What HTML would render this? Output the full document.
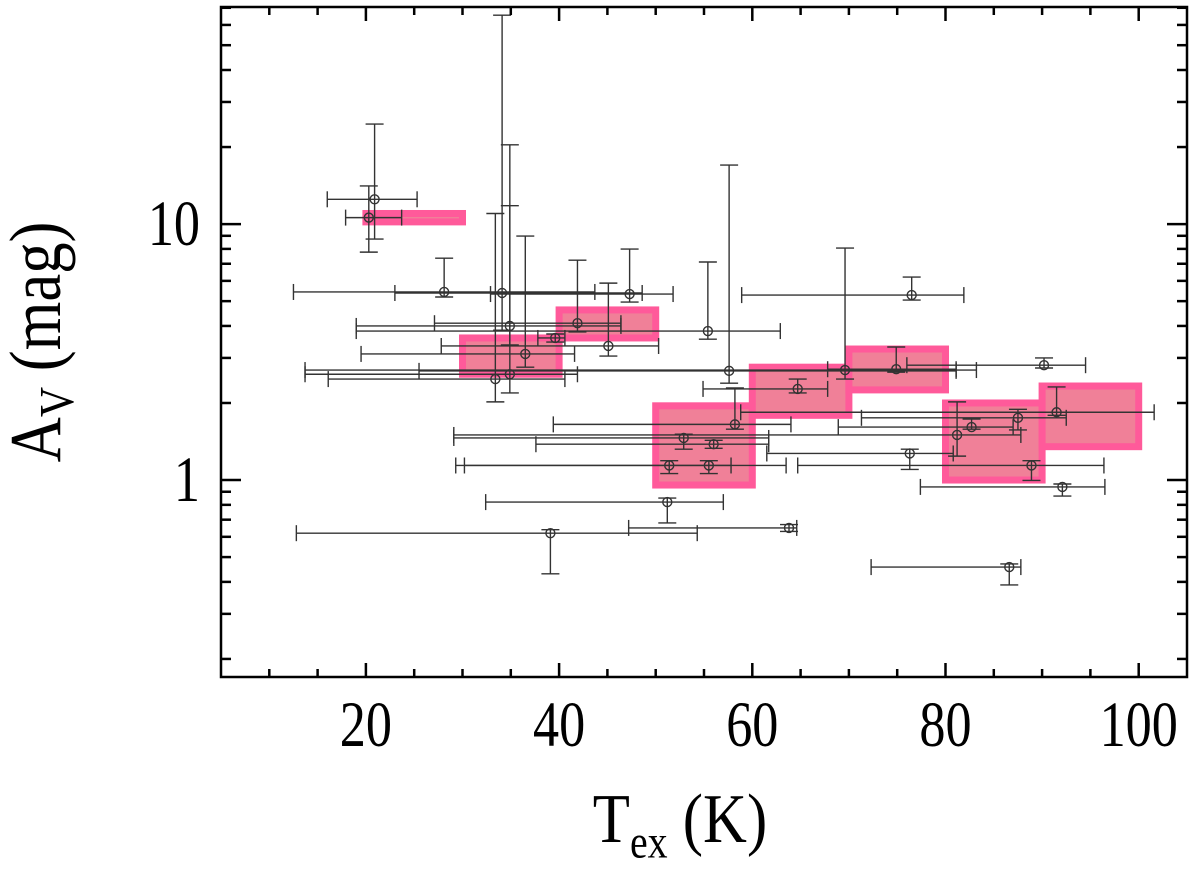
<!DOCTYPE html>
<html><head><meta charset="utf-8"><style>
html,body{margin:0;padding:0;background:#fff;}
svg{display:block;}
text{font-family:"Liberation Serif",serif;fill:#000;}
</style></head><body>
<svg id="chart" width="1200" height="870" viewBox="0 0 1200 870" xmlns="http://www.w3.org/2000/svg">
<g id="boxes"></g>
<g id="errs"></g>
<g id="axes"></g>
<text transform="translate(60,342) rotate(-90) scale(0.95,1.1)" text-anchor="middle" font-size="66">A<tspan font-size="44" dy="12">V</tspan><tspan dy="-12"> (mag)</tspan></text>
<text transform="translate(680,842) scale(0.95,1.1)" x="0" y="0" text-anchor="middle" font-size="64">T<tspan font-size="42" dy="14">ex</tspan><tspan dy="-14"> (K)</tspan></text>
</svg>
<script>
// bins
const binLo = [20,30,40,50,60,70,80,90];
const binHi = [30,40,50,60,70,80,90,100];
const binAvLo = [10.2,2.59,3.59,0.956,1.79,2.25,1.0,1.35];
const binAvHi = [11.0,3.59,4.62,1.95,2.76,3.25,2.0,2.33];
// points
const tex   = [20.9,20.3,28.1,34.1,47.3,34.9,41.9,39.6,45.1,36.5,34.9,33.4,55.4,57.6,69.6,74.9,76.5,90.2,64.7,58.2,91.5,87.5,82.7,81.2,52.9,56.0,76.3,51.4,55.5,88.9,92.1,51.2,63.8,39.1,86.6];
const texLo = [16.0,17.9,12.5,23.0,32.9,19.0,27.1,37.8,27.8,19.5,13.7,16.1,19.0,25.5,13.7,67.8,58.9,76.0,54.9,39.4,58.8,71.3,68.9,29.1,29.1,37.6,61.5,29.3,30.2,64.7,77.4,32.4,47.2,12.8,72.3];
const texHi = [25.3,23.7,43.7,48.6,51.8,46.4,46.4,40.6,50.3,41.6,41.9,40.6,62.9,81.1,83.2,81.1,81.9,94.5,67.8,64.0,101.6,92.5,87.0,87.8,61.7,61.7,80.8,63.5,57.8,96.4,96.5,57.0,64.6,54.3,87.8];
const av    = [12.5,10.6,5.43,5.38,5.33,4.0,4.10,3.59,3.34,3.11,2.59,2.48,3.82,2.67,2.69,2.71,5.28,2.81,2.27,1.65,1.84,1.75,1.61,1.50,1.46,1.38,1.27,1.14,1.14,1.14,0.94,0.82,0.65,0.62,0.457];
const avLo  = [8.74,7.77,5.19,3.85,4.96,3.37,3.79,3.46,3.05,2.76,2.19,2.02,3.55,2.39,2.48,2.64,5.05,2.74,2.19,1.58,1.79,1.57,1.58,1.24,1.32,1.33,1.10,1.06,1.06,0.996,0.866,0.68,0.63,0.43,0.389];
const avHi  = [24.6,14.1,7.36,65.5,7.99,20.4,7.23,3.72,5.88,8.98,11.8,11.0,7.11,17.0,8.06,3.31,6.21,3.0,2.48,2.29,2.31,1.89,1.73,2.02,1.51,1.43,1.32,1.19,1.19,1.19,0.965,0.85,0.67,0.64,0.47];
const xTickLabels = ["20","40","60","80","100"];
const yTickLabels = ["1","10"];

const NS="http://www.w3.org/2000/svg";
const L=221,R=1187,T=7,B=677;
const XMIN=5,XMAX=105,YMIN=0.17,YMAX=70.5;
function xs(v){return L+(v-XMIN)/(XMAX-XMIN)*(R-L);}
function ys(v){return B-(Math.log10(v)-Math.log10(YMIN))/(Math.log10(YMAX)-Math.log10(YMIN))*(B-T);}
function mk(tag,attrs,parent){const e=document.createElementNS(NS,tag);for(const k in attrs)e.setAttribute(k,attrs[k]);parent.appendChild(e);return e;}

const gB=document.getElementById('boxes');
for(let i=0;i<binLo.length;i++){
  const x1=xs(binLo[i]),x2=xs(binHi[i]),y1=ys(binAvHi[i]),y2=ys(binAvLo[i]);
  const r=mk('rect',{x:x1,y:y1,width:x2-x1,height:y2-y1,fill:'#f08098',stroke:'#ff5a9a','stroke-width':7},gB);
  
  
}
const gE=document.getElementById('errs');
for(let i=0;i<tex.length;i++){
  const g=mk('g',{stroke:'#333','stroke-width':1.4,fill:'none'},gE);
  
  
  const cx=xs(tex[i]),cy=ys(av[i]);
  const xl=xs(texLo[i]),xr=xs(texHi[i]),yt=ys(avHi[i]),yb=ys(avLo[i]);
  mk('line',{x1:xl,y1:cy,x2:xr,y2:cy},g);
  mk('line',{x1:xl,y1:cy-8,x2:xl,y2:cy+8},g);
  mk('line',{x1:xr,y1:cy-8,x2:xr,y2:cy+8},g);
  mk('line',{x1:cx,y1:yt,x2:cx,y2:yb},g);
  mk('line',{x1:cx-9,y1:yt,x2:cx+9,y2:yt},g);
  mk('line',{x1:cx-9,y1:yb,x2:cx+9,y2:yb},g);
  mk('circle',{cx:cx,cy:cy,r:4.5},g);
}
const gA=document.getElementById('axes');
const fr=mk('rect',{x:L,y:T,width:R-L,height:B-T,fill:'none',stroke:'#000','stroke-width':2.5},gA);


for(let v=10;v<=100;v+=5){
  const maj=v%20===0,len=maj?14:8,x=xs(v);
  mk('line',{x1:x,y1:B,x2:x,y2:B-len,stroke:'#000','stroke-width':2.5},gA);
  mk('line',{x1:x,y1:T,x2:x,y2:T+len,stroke:'#000','stroke-width':2.5},gA);
}
xTickLabels.forEach(s=>{
  const t=mk('text',{transform:'translate('+xs(parseFloat(s))+',746) scale(0.9,1.12)','text-anchor':'middle','font-size':58},gA);
  t.textContent=s;
  
  
});
for(const dec of [0.1,1,10]){
  for(let m=1;m<=9;m++){
    const v=dec*m; if(v<YMIN||v>YMAX) continue;
    const maj=m===1,len=maj?20:10,y=ys(v);
    mk('line',{x1:L,y1:y,x2:L+len,y2:y,stroke:'#000','stroke-width':2.5},gA);
    mk('line',{x1:R,y1:y,x2:R-len,y2:y,stroke:'#000','stroke-width':2.5},gA);
  }
}
yTickLabels.forEach(s=>{
  const t=mk('text',{transform:'translate(200,'+(ys(parseFloat(s))+21)+') scale(0.9,1.12)','text-anchor':'end','font-size':58},gA);
  t.textContent=s;
  
  
});
</script>
</body></html>
